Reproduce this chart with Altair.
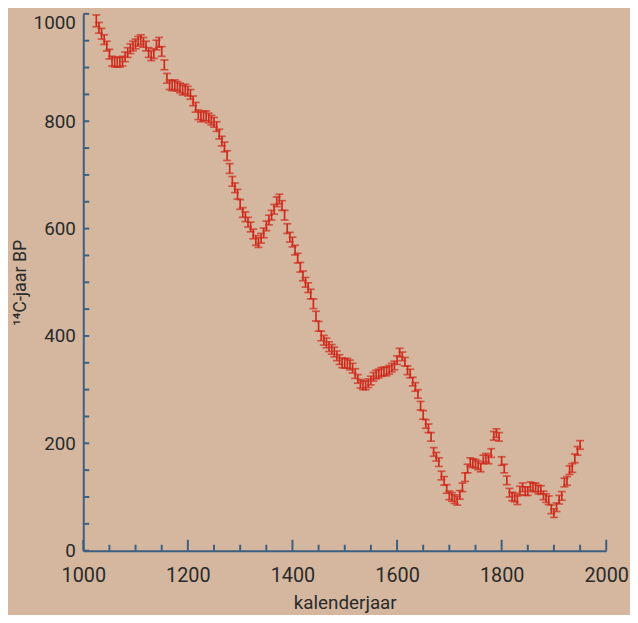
import altair as alt
import pandas as pd

# calendar years (5-year grid) and 14C ages (BP)
years = list(range(1025, 1955, 5))
bp = [
    987, 974, 963, 952, 940, 925, 912, 910, 910, 910,
    912, 920, 928, 935, 940, 944, 949, 952, 947, 940,
    928, 922, 926, 942, 947, 930, 905, 880, 868, 866,
    868, 865, 862, 858, 860, 856, 850, 838, 826, 812,
    808, 810, 810, 806, 802, 798, 790, 776, 763, 752,
    736, 712, 688, 676, 664, 645, 630, 622, 612, 603,
    590, 578, 574, 582, 592, 605, 616, 625, 636, 650,
    655, 643, 625, 600, 584, 575, 560, 545, 528, 512,
    500, 490, 478, 460, 437, 418, 400, 392, 387, 380,
    375, 370, 363, 356, 350, 349, 349, 346, 340, 330,
    320, 311, 308, 308, 312, 317, 324, 328, 330, 333,
    334, 334, 337, 341, 345, 355, 369, 362, 352, 336,
    330, 315, 305, 292, 270, 253, 236, 228, 212, 184,
    175, 165, 140, 130, 115, 103, 100, 96, 93, 104,
    118, 137, 153, 165, 163, 162, 159, 155, 170, 173,
    170, 182, 214, 219, 212, 167, 153, 131, 108, 101,
    99, 94, 112, 118, 111, 111, 120, 118, 118, 114,
    113, 103, 98, 94, 77, 70, 81, 95, 102, 127,
    130, 150, 154, 172, 186, 197,
]
err = [
    11, 10, 10, 9, 9, 9, 9, 9, 9, 9,
    9, 9, 9, 9, 9, 9, 9, 9, 9, 9,
    9, 9, 9, 9, 9, 9, 9, 9, 9, 9,
    9, 9, 9, 9, 9, 9, 9, 9, 9, 9,
    9, 9, 9, 9, 9, 9, 9, 9, 9, 9,
    9, 9, 9, 9, 9, 9, 9, 9, 9, 9,
    9, 9, 9, 9, 9, 9, 9, 9, 9, 9,
    9, 9, 9, 9, 9, 9, 9, 9, 9, 9,
    9, 9, 9, 9, 9, 9, 9, 9, 9, 9,
    9, 9, 9, 9, 9, 9, 9, 9, 9, 9,
    8, 8, 8, 8, 8, 8, 8, 8, 8, 8,
    8, 8, 8, 8, 8, 8, 8, 8, 8, 8,
    8, 8, 8, 8, 8, 8, 8, 8, 8, 8,
    8, 8, 8, 8, 8, 8, 8, 8, 8, 8,
    8, 8, 8, 8, 8, 8, 8, 8, 8, 8,
    8, 8, 8, 8, 8, 8, 8, 8, 8, 8,
    8, 8, 8, 8, 8, 8, 8, 8, 8, 8,
    8, 8, 8, 8, 8, 8, 8, 8, 8, 8,
    8, 8, 8, 8, 8, 8,
]

x_labels = [1000, 1200, 1400, 1600, 1800, 2000]
x_minor = [1050, 1100, 1150, 1250, 1300, 1350, 1450, 1500, 1550,
           1650, 1700, 1750, 1850, 1900, 1950]
y_labels = [0, 200, 400, 600, 800, 1000]
y_ticks = [0, 50, 100, 150, 200, 250, 300, 350, 400, 450, 500,
           550, 600, 650, 700, 750, 800, 850, 900, 950, 1000]

BG = "#d4b79e"
RED = "#cf2a1c"
AX = "#3e5f80"
TXT = "#2a2a2a"
FONT = "Roboto"

W, H = 528, 542

df = pd.DataFrame({"year": years, "bp": bp, "err": err})

xs = alt.Scale(domain=[1000, 2000], nice=False, zero=False)
ys = alt.Scale(domain=[0, 1000], nice=False)

x_axis = alt.Axis(values=x_labels, title="kalenderjaar", format="d",
                  ticks=False, tickSize=0, grid=False,
                  domainColor=AX, domainWidth=2,
                  labelFont=FONT, labelFontSize=20, labelColor=TXT,
                  labelPadding=15, labelFlush=False,
                  titleFont=FONT, titleFontSize=19, titleFontWeight="normal",
                  titleColor=TXT, titlePadding=8)
y_axis = alt.Axis(values=y_labels, title="¹⁴C-jaar BP", format="d",
                  ticks=False, tickSize=0, grid=False,
                  domainColor=AX, domainWidth=2,
                  labelFont=FONT, labelFontSize=19, labelColor=TXT,
                  labelPadding=8, labelFlush=False,
                  labelBaseline={"condition": {"test": "datum.value == 1000",
                                               "value": "top"},
                                 "value": "middle"},
                  titleFont=FONT, titleFontSize=18, titleFontWeight="normal",
                  titleColor=TXT, titlePadding=4)

base = alt.Chart(df).transform_calculate(
    lo="datum.bp - datum.err", hi="datum.bp + datum.err"
)

bars = base.mark_rule(color=RED, strokeWidth=1.7).encode(
    x=alt.X("year:Q", scale=xs, axis=x_axis),
    y=alt.Y("lo:Q", scale=ys, axis=y_axis),
    y2="hi:Q",
)

caps = base.transform_fold(["lo", "hi"], as_=["k", "v"]).mark_tick(
    orient="horizontal", size=8, thickness=1.7, color=RED
).encode(
    x=alt.X("year:Q", scale=xs, axis=x_axis),
    y=alt.Y("v:Q", scale=ys, axis=y_axis),
)

yt = alt.Chart(pd.DataFrame({"v": y_ticks})).mark_rule(
    color=AX, strokeWidth=2
).encode(
    y=alt.Y("v:Q", scale=ys, axis=y_axis),
    x=alt.value(0), x2=alt.value(6),
)

xt_major = alt.Chart(pd.DataFrame({"v": x_labels})).mark_rule(
    color=AX, strokeWidth=2
).encode(
    x=alt.X("v:Q", scale=xs, axis=x_axis),
    y=alt.value(H), y2=alt.value(H - 11),
)

xt_minor = alt.Chart(pd.DataFrame({"v": x_minor})).mark_rule(
    color=AX, strokeWidth=2
).encode(
    x=alt.X("v:Q", scale=xs, axis=x_axis),
    y=alt.value(H), y2=alt.value(H - 6),
)

chart = alt.layer(bars, caps, yt, xt_major, xt_minor).properties(
    width=W, height=H,
    padding={"left": 76, "top": 3, "right": 24, "bottom": 62},
    autosize=alt.AutoSizeParams(type="none"),
    background=BG,
).configure_view(stroke=None)

chart.save("out.html", embed_options={"renderer": "svg", "actions": False})
